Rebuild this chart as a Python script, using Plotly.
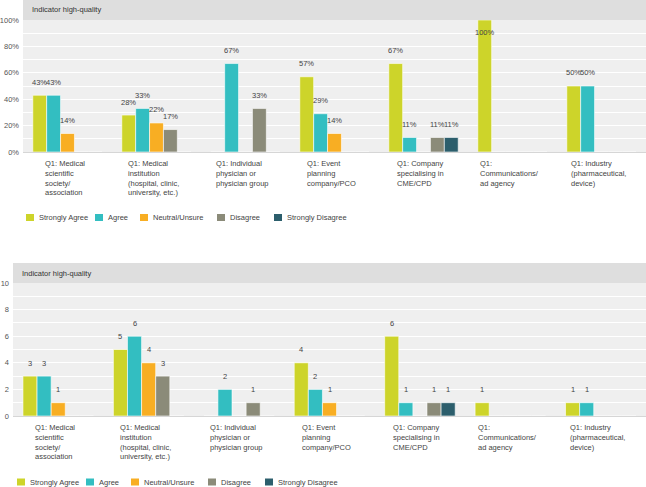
import plotly.graph_objects as go
from plotly.subplots import make_subplots

categories = [
    "Q1: Medical<br>scientific<br>society/<br>association",
    "Q1: Medical<br>institution<br>(hospital, clinic,<br>university, etc.)",
    "Q1: Individual<br>physician or<br>physician group",
    "Q1: Event<br>planning<br>company/PCO",
    "Q1: Company<br>specialising in<br>CME/CPD",
    "Q1:<br>Communications/<br>ad agency",
    "Q1: Industry<br>(pharmaceutical,<br>device)",
]
series_names = ["Strongly Agree", "Agree", "Neutral/Unsure", "Disagree", "Strongly Disagree"]
colors = ["#cdd42a", "#33bec1", "#f8ae23", "#8b8b79", "#2c5e6c"]

# percentages (top chart)
pct_strongly_agree = [43, 28, 0, 57, 67, 100, 50]
pct_agree = [43, 33, 67, 29, 11, 0, 50]
pct_neutral = [14, 22, 0, 14, 0, 0, 0]
pct_disagree = [0, 17, 33, 0, 11, 0, 0]
pct_strongly_disagree = [0, 0, 0, 0, 11, 0, 0]

# counts (bottom chart)
cnt_strongly_agree = [3, 5, 0, 4, 6, 1, 1]
cnt_agree = [3, 6, 2, 2, 1, 0, 1]
cnt_neutral = [1, 4, 0, 1, 0, 0, 0]
cnt_disagree = [0, 3, 1, 0, 1, 0, 0]
cnt_strongly_disagree = [0, 0, 0, 0, 1, 0, 0]

pct_series = [pct_strongly_agree, pct_agree, pct_neutral, pct_disagree, pct_strongly_disagree]
cnt_series = [cnt_strongly_agree, cnt_agree, cnt_neutral, cnt_disagree, cnt_strongly_disagree]

panel_title = "Indicator high-quality"
pct_max, cnt_max = 100, 10

W, H = 646, 487
FONT = "Liberation Sans, Arial, sans-serif"
FS = 7.5
TXT = "#444444"
BARGAP = 0.22

# panel geometry in pixels
panels = [
    dict(left=23, top=20, bottom=152, series=pct_series, fmt="{}%", ymax=pct_max,
         xa="x", ya="y", legend_y=217.5, legend_x=[26, 95, 140, 217, 274]),
    dict(left=13, top=283, bottom=416, series=cnt_series, fmt="{}", ymax=cnt_max,
         xa="x2", ya="y2", legend_y=482, legend_x=[17, 86, 131, 208, 265]),
]

fig = make_subplots(rows=2, cols=1)

for r, p in enumerate(panels, start=1):
    for name, col, vals in zip(series_names, colors, p["series"]):
        fig.add_trace(go.Bar(
            x=categories, y=vals, name=name,
            marker=dict(color=col, line=dict(color="white", width=0.6)),
            showlegend=False, hoverinfo="skip",
        ), row=r, col=1)

axis_common = dict(automargin=False)
fig.update_layout(
    width=W, height=H,
    margin=dict(l=0, r=0, t=0, b=0),
    paper_bgcolor="white", plot_bgcolor="#efefef",
    font=dict(family=FONT, size=FS, color=TXT),
    barmode="group", bargap=BARGAP, bargroupgap=0.0,
    showlegend=False,
    xaxis=dict(domain=[23 / W, 1], showticklabels=False, showgrid=False, ticks="",
               showline=True, linecolor="#d6d6d6", linewidth=1, **axis_common),
    yaxis=dict(domain=[1 - 152 / H, 1 - 20 / H], range=[0, pct_max], dtick=20, ticksuffix="%",
               showgrid=True, gridcolor="white", gridwidth=1, zeroline=False,
               minor=dict(dtick=10, showgrid=True, gridcolor="white", gridwidth=1),
               tickfont=dict(size=FS, color="#555555"), ticks="", ticklabelstandoff=3,
               **axis_common),
    xaxis2=dict(domain=[13 / W, 1], showticklabels=False, showgrid=False, ticks="",
                showline=True, linecolor="#d6d6d6", linewidth=1, **axis_common),
    yaxis2=dict(domain=[1 - 416 / H, 1 - 283 / H], range=[0, cnt_max], dtick=2,
                showgrid=True, gridcolor="white", gridwidth=1, zeroline=False,
                minor=dict(dtick=1, showgrid=True, gridcolor="white", gridwidth=1),
                tickfont=dict(size=FS, color="#555555"), ticks="", ticklabelstandoff=3,
                **axis_common),
)

n_series = len(series_names)
for p in panels:
    h = p["bottom"] - p["top"]
    xd, yd = p["xa"] + " domain", p["ya"] + " domain"
    # header strip
    fig.add_shape(type="rect", xref=xd, yref=yd, x0=0, x1=1, y0=1, y1=1 + 20 / h,
                  fillcolor="#dedede", line=dict(width=0), layer="below")
    fig.add_annotation(xref=xd, yref=yd, x=0, y=1 + 10 / h, xanchor="left", yanchor="middle",
                       xshift=7, text=panel_title, showarrow=False,
                       font=dict(size=FS, color="#333333"))
    # category labels
    for c in categories:
        fig.add_annotation(xref=p["xa"], yref=yd, x=c, y=0, yanchor="top", xanchor="center",
                           xshift=-3, yshift=-5, text=c, align="left", showarrow=False,
                           font=dict(size=FS, color=TXT))
    # value labels above bars
    cat_w = (W - p["left"]) / len(categories)
    bar_w = cat_w * (1 - BARGAP) / n_series
    for i, vals in enumerate(p["series"]):
        for c, v in zip(categories, vals):
            if v <= 0:
                continue
            fig.add_annotation(xref=p["xa"], yref=p["ya"], x=c, y=v,
                               xshift=(i - (n_series - 1) / 2) * bar_w,
                               yshift=(-13 if v >= p["ymax"] else 13),
                               xanchor="center", yanchor="middle",
                               text=p["fmt"].format(v), showarrow=False,
                               font=dict(size=FS, color=TXT))
    # legend
    for name, col, lx in zip(series_names, colors, p["legend_x"]):
        fig.add_shape(type="rect", xref="paper", yref="paper",
                      x0=lx / W, x1=(lx + 8) / W,
                      y0=1 - (p["legend_y"] + 3.5) / H, y1=1 - (p["legend_y"] - 3.5) / H,
                      fillcolor=col, line=dict(width=0))
        fig.add_annotation(xref="paper", yref="paper", x=(lx + 11) / W, y=1 - p["legend_y"] / H,
                           xanchor="left", yanchor="middle", text=name, showarrow=False,
                           font=dict(size=FS, color=TXT))

fig.write_html("out.html", config={"displayModeBar": False},
               post_script="document.body.style.margin='0';document.body.style.overflow='hidden';")
